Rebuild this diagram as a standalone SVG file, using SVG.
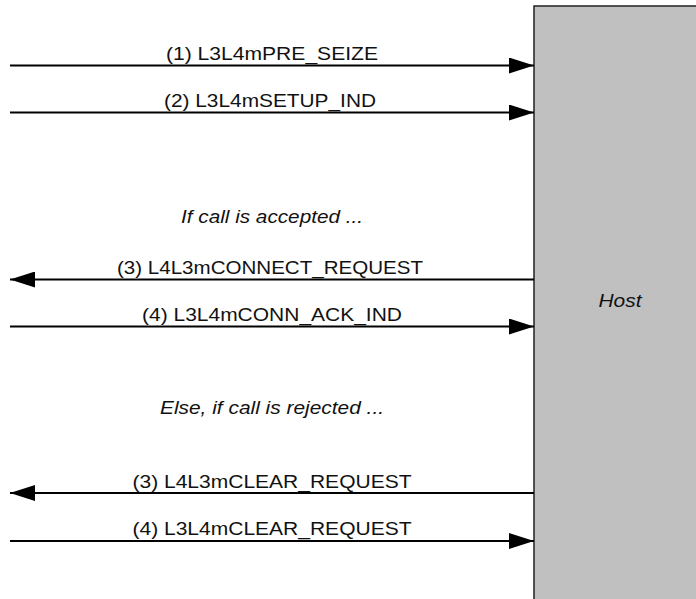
<svg xmlns="http://www.w3.org/2000/svg" width="696" height="599" viewBox="0 0 696 599">
<style>
.lbl{font-family:"Liberation Sans",Arial,sans-serif;font-size:18px;fill:#111;text-anchor:middle}
.it{font-style:italic}
.msg{stroke:#000;stroke-width:2;fill:none}
</style>
<defs>
<marker id="ah" markerWidth="25" markerHeight="16" refX="25" refY="8" orient="auto" markerUnits="userSpaceOnUse">
<path d="M0,0 L25,8 L0,16 Z" fill="#000"/>
</marker>
</defs>
<rect width="696" height="599" fill="#fff"/>
<g id="host">
<rect x="534" y="6" width="170" height="600" fill="#c0c0c0" stroke="#222" stroke-width="1.5"/>
<text class="lbl it" x="620" y="307" textLength="43" lengthAdjust="spacingAndGlyphs">Host</text>
</g>
<g id="connectors">
<line class="msg" x1="10" y1="65.5" x2="534" y2="65.5" marker-end="url(#ah)"/>
<line class="msg" x1="10" y1="112.5" x2="534" y2="112.5" marker-end="url(#ah)"/>
<line class="msg" x1="534" y1="279.5" x2="10" y2="279.5" marker-end="url(#ah)"/>
<line class="msg" x1="10" y1="326.5" x2="534" y2="326.5" marker-end="url(#ah)"/>
<line class="msg" x1="534" y1="493" x2="10" y2="493" marker-end="url(#ah)"/>
<line class="msg" x1="10" y1="541" x2="534" y2="541" marker-end="url(#ah)"/>
</g>
<g id="labels">
<text class="lbl" x="272" y="60" textLength="212" lengthAdjust="spacingAndGlyphs">(1) L3L4mPRE_SEIZE</text>
<text class="lbl" x="270" y="107" textLength="212" lengthAdjust="spacingAndGlyphs">(2) L3L4mSETUP_IND</text>
<text class="lbl it" x="272" y="223" textLength="182" lengthAdjust="spacingAndGlyphs">If call is accepted ...</text>
<text class="lbl" x="270" y="274" textLength="306" lengthAdjust="spacingAndGlyphs">(3) L4L3mCONNECT_REQUEST</text>
<text class="lbl" x="272" y="321" textLength="260" lengthAdjust="spacingAndGlyphs">(4) L3L4mCONN_ACK_IND</text>
<text class="lbl it" x="272" y="414" textLength="224" lengthAdjust="spacingAndGlyphs">Else, if call is rejected ...</text>
<text class="lbl" x="272" y="488" textLength="279" lengthAdjust="spacingAndGlyphs">(3) L4L3mCLEAR_REQUEST</text>
<text class="lbl" x="272" y="535" textLength="279" lengthAdjust="spacingAndGlyphs">(4) L3L4mCLEAR_REQUEST</text>
</g>
</svg>
